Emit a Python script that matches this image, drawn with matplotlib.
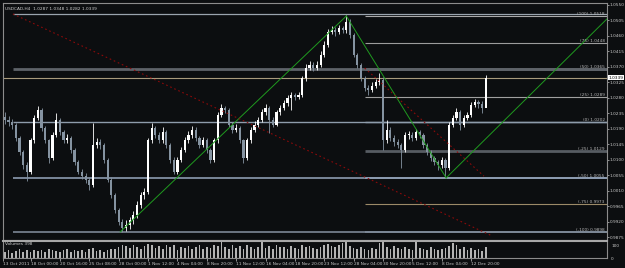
import numpy as np
import matplotlib
matplotlib.use("Agg")
import matplotlib.pyplot as plt
import matplotlib.transforms as mtransforms

# USDCAD H4 chart (bars grouped to 8 hours)
first_open = 1.0225
close = [1.0216, 1.0210, 1.0202, 1.0164, 1.0123, 1.0085, 1.0065, 1.0158, 1.0222, 1.0245,
         1.0193, 1.0158, 1.0106, 1.0173, 1.0216, 1.0181, 1.0158, 1.0164, 1.0129, 1.0094,
         1.0065, 1.0054, 1.0042, 1.0027, 1.0144, 1.0152, 1.0144, 1.0100, 1.0042, 0.9998,
         0.9955, 0.9920, 0.9903, 0.9911, 0.9926, 0.9940, 0.9969, 0.9998, 1.0007, 1.0158,
         1.0193, 1.0173, 1.0158, 1.0181, 1.0144, 1.0100, 1.0065, 1.0100, 1.0129, 1.0158,
         1.0173, 1.0187, 1.0164, 1.0144, 1.0158, 1.0129, 1.0100, 1.0158, 1.0231, 1.0251,
         1.0245, 1.0202, 1.0187, 1.0193, 1.0158, 1.0106, 1.0158, 1.0187, 1.0202, 1.0216,
         1.0239, 1.0251, 1.0216, 1.0202, 1.0239, 1.0251, 1.0265, 1.0280, 1.0289, 1.0283,
         1.0289, 1.0338, 1.0367, 1.0376, 1.0367, 1.0376, 1.0405, 1.0434, 1.0472, 1.0477,
         1.0472, 1.0483, 1.0477, 1.0501, 1.0463, 1.0405, 1.0376, 1.0338, 1.0309, 1.0303,
         1.0315, 1.0326, 1.0332, 1.0158, 1.0187, 1.0164, 1.0152, 1.0144, 1.0129, 1.0173,
         1.0173, 1.0164, 1.0181, 1.0173, 1.0144, 1.0123, 1.0106, 1.0094, 1.0085, 1.0100,
         1.0077, 1.0202, 1.0222, 1.0239, 1.0202, 1.0222, 1.0231, 1.0260, 1.0268, 1.0263,
         1.0251, 1.0339]
high = [1.0240, 1.0228, 1.0218, 1.0207, 1.0170, 1.0130, 1.0095, 1.0165, 1.0230, 1.0257,
        1.0250, 1.0200, 1.0162, 1.0180, 1.0236, 1.0222, 1.0188, 1.0175, 1.0170, 1.0135,
        1.0100, 1.0075, 1.0062, 1.0050, 1.0207, 1.0165, 1.0160, 1.0150, 1.0105, 1.0050,
        1.0005, 0.9962, 0.9930, 0.9925, 0.9935, 0.9952, 0.9980, 1.0008, 1.0020, 1.0165,
        1.0207, 1.0200, 1.0180, 1.0195, 1.0188, 1.0150, 1.0108, 1.0110, 1.0138, 1.0168,
        1.0185, 1.0200, 1.0195, 1.0170, 1.0168, 1.0165, 1.0135, 1.0165, 1.0238, 1.0262,
        1.0258, 1.0250, 1.0210, 1.0205, 1.0198, 1.0162, 1.0165, 1.0195, 1.0212, 1.0225,
        1.0248, 1.0262, 1.0256, 1.0225, 1.0245, 1.0260, 1.0275, 1.0290, 1.0298, 1.0295,
        1.0298, 1.0345, 1.0380, 1.0388, 1.0385, 1.0386, 1.0415, 1.0445, 1.0480, 1.0490,
        1.0485, 1.0492, 1.0490, 1.0521, 1.0510, 1.0470, 1.0412, 1.0382, 1.0345, 1.0318,
        1.0325, 1.0335, 1.0353, 1.0340, 1.0216, 1.0195, 1.0172, 1.0160, 1.0150, 1.0180,
        1.0185, 1.0180, 1.0190, 1.0188, 1.0178, 1.0150, 1.0130, 1.0112, 1.0100, 1.0110,
        1.0105, 1.0210, 1.0232, 1.0250, 1.0245, 1.0230, 1.0240, 1.0268, 1.0278, 1.0275,
        1.0270, 1.0348]
low = [1.0205, 1.0198, 1.0190, 1.0155, 1.0115, 1.0075, 1.0040, 1.0058, 1.0150, 1.0215,
       1.0185, 1.0148, 1.0091, 1.0100, 1.0168, 1.0172, 1.0148, 1.0150, 1.0120, 1.0085,
       1.0058, 1.0045, 1.0032, 1.0013, 1.0022, 1.0135, 1.0132, 1.0092, 1.0035, 0.9990,
       0.9945, 0.9910, 0.9891, 0.9895, 0.9900, 0.9915, 0.9932, 0.9960, 0.9988, 1.0000,
       1.0150, 1.0165, 1.0148, 1.0150, 1.0135, 1.0092, 1.0058, 1.0060, 1.0094, 1.0122,
       1.0150, 1.0165, 1.0155, 1.0135, 1.0138, 1.0120, 1.0090, 1.0095, 1.0150, 1.0225,
       1.0235, 1.0195, 1.0178, 1.0180, 1.0150, 1.0091, 1.0100, 1.0150, 1.0180, 1.0195,
       1.0210, 1.0232, 1.0178, 1.0195, 1.0198, 1.0232, 1.0245, 1.0258, 1.0245, 1.0275,
       1.0276, 1.0282, 1.0330, 1.0360, 1.0358, 1.0360, 1.0370, 1.0398, 1.0428, 1.0465,
       1.0460, 1.0466, 1.0468, 1.0470, 1.0455, 1.0398, 1.0368, 1.0330, 1.0300, 1.0290,
       1.0296, 1.0308, 1.0318, 1.0129, 1.0150, 1.0155, 1.0142, 1.0135, 1.0077, 1.0122,
       1.0162, 1.0155, 1.0158, 1.0165, 1.0135, 1.0115, 1.0098, 1.0085, 1.0071, 1.0078,
       1.0048, 1.0070, 1.0195, 1.0215, 1.0187, 1.0196, 1.0215, 1.0225, 1.0255, 1.0252,
       1.0236, 1.0282]
volume = [45, 60, 40, 55, 70, 50, 65, 45, 60, 55,
          65, 50, 70, 60, 55, 45, 65, 70, 50, 60,
          55, 65, 45, 70, 80, 55, 60, 50, 65, 75,
          70, 85, 100, 95, 80, 105, 90, 70, 95, 110,
          100, 80, 95, 70, 105, 85, 100, 65, 90, 80,
          95, 70, 85, 100, 75, 90, 80, 105, 95, 130,
          90, 75, 100, 80, 95, 70, 105, 85, 75, 90,
          130, 80, 95, 70, 100, 85, 90, 75, 95, 80,
          70, 105, 85, 95, 80, 70, 90, 100, 110, 95,
          85, 100, 120, 128, 95, 80, 70, 90, 75, 65,
          80, 70, 120, 128, 85, 70, 95, 80, 70, 90,
          75, 65, 125, 80, 70, 60, 85, 75, 65, 70,
          80, 95, 120, 100, 70, 85, 65, 80, 60, 70,
          55, 85]

date_labels = ["13 Oct 2011", "18 Oct 00:00", "20 Oct 16:00", "25 Oct 08:00", "28 Oct 00:00",
               "1 Nov 12:00", "4 Nov 04:00", "8 Nov 20:00", "11 Nov 12:00", "16 Nov 04:00",
               "18 Nov 20:00", "23 Nov 12:00", "28 Nov 04:00", "30 Nov 20:00", "5 Dec 12:00",
               "8 Dec 04:00", "12 Dec 20:00"]
price_ticks = [1.0550, 1.0505, 1.0460, 1.0415, 1.0370, 1.0325, 1.0280, 1.0235, 1.0190,
               1.0145, 1.0100, 1.0055, 1.0010, 0.9965, 0.9920, 0.9875]

# fibonacci levels drawn from the swing high
fib_prices = [1.0518, 1.0440, 1.0364, 1.0283, 1.0210, 1.0126, 1.0048, 0.9972, 0.9891]
fib_text = ["(100) 1.0518", "(75) 1.0448", "(50) 1.0365", "(25) 1.0289", "(0) 1.0202",
            "(-25) 1.0129", "(-50) 1.0055", "(-75) 0.9973", "(-100) 0.9898"]
fib_colors = ["#a8a8a8", "#9c9c9c", "#5e6369", "#a0a0a0", "#8e9cab",
              "#575c62", "#8c9bb0", "#9c8a68", "#7c8795"]
fib_widths = [0.8, 0.8, 2.0, 0.8, 1.0, 2.0, 1.4, 0.8, 1.4]

# longer horizontal lines across the chart
hline_prices = [1.0524, 1.0364, 1.0210, 1.0048, 0.9891]
hline_colors = ["#9aa4ae", "#5e6369", "#8e9cab", "#8c9bb0", "#7c8795"]
hline_widths = [0.9, 2.0, 1.0, 1.2, 1.2]
last_price = 1.0339

# trend lines (bar index, price)
green_lines = [((31.4, 0.9891), (93.0, 1.0518)),
               ((93.0, 1.0518), (120.2, 1.0048)),
               ((120.2, 1.0048), (164.5, 1.0515))]
red_lines = [((2.2, 1.0524), (132.2, 0.9882)),
             ((98.0, 1.0367), (130.5, 1.0053))]

BG = "#0c0e10"
TXT = "#c8c8c8"
FS = 3.1
W, H = 625, 268

fig = plt.figure(figsize=(W / 100, H / 100), dpi=100, facecolor=BG)
ax = fig.add_axes([3 / W, 1 - 240 / H, 604 / W, 237 / H], facecolor=BG)
axv = fig.add_axes([3 / W, 1 - 258 / H, 604 / W, 17 / H], facecolor=BG, sharex=ax)

n = len(close)
x = np.arange(n)
opens = [first_open] + close[:-1]
xmax = 164.0

for i in range(n):
    o, c = opens[i], close[i]
    col = "#ffffff" if c >= o else "#8593a1"
    ax.vlines(i, low[i], high[i], color=col, lw=0.6, zorder=3)
    body = max(abs(c - o), 0.0002)
    ax.bar(i, body, bottom=min(o, c), width=0.6, color=col, lw=0, zorder=4)

for p, col, lw in zip(hline_prices, hline_colors, hline_widths):
    ax.hlines(p, 2.2, xmax, color=col, lw=lw, zorder=2)
ax.hlines(last_price, -0.5, xmax, color="#a89a7c", lw=0.8, zorder=2)

for p, t, col, lw in zip(fib_prices, fib_text, fib_colors, fib_widths):
    ax.hlines(p, 98.0, xmax, color=col, lw=lw, zorder=2)
    ax.text(xmax - 0.6, p + 0.0001, t, ha="right", va="bottom", fontsize=FS,
            color="#b8b8b8", zorder=6)

for (x0, y0), (x1, y1) in green_lines:
    ax.plot([x0, x1], [y0, y1], color="#1f9a1f", lw=0.7, zorder=5)
for (x0, y0), (x1, y1) in red_lines:
    ax.plot([x0, x1], [y0, y1], color="#8b0a0a", lw=0.8, ls=(0, (1.5, 2.5)), zorder=5)

ax.set_xlim(-0.5, xmax)
ax.set_ylim(0.98677, 1.05558)
ax.yaxis.tick_right()
ax.set_yticks(price_ticks)
ax.set_yticklabels(["%.4f" % v for v in price_ticks])
ax.tick_params(axis="y", colors=TXT, labelsize=FS, length=1.5, width=0.5, pad=0.5)
ax.tick_params(axis="x", bottom=False, labelbottom=False)
for s in ax.spines.values():
    s.set_color("#8c8c8c")
    s.set_linewidth(0.8)

trans = mtransforms.blended_transform_factory(ax.transAxes, ax.transData)
ax.text(1.003, last_price, "1.0339", transform=trans, fontsize=FS, color="black",
        va="center", ha="left",
        bbox=dict(boxstyle="square,pad=0.1", fc="white", ec="none"), zorder=7)
ax.text(0.004, 0.985, "USDCAD,H4  1.0287 1.0348 1.0282 1.0339", transform=ax.transAxes,
        fontsize=FS, color="#d0d0d0", va="top", ha="left")

# volume pane
axv.bar(x, volume, width=0.45, color="#b4b4b4", lw=0)
axv.set_ylim(0, 135)
axv.yaxis.tick_right()
axv.set_yticks([0, 100])
axv.set_yticklabels(["0", "100"])
axv.tick_params(axis="y", colors=TXT, labelsize=FS, length=0, pad=3)
tick_pos = [-0.4] + [7 + 8 * k for k in range(len(date_labels) - 1)]
axv.set_xticks(tick_pos)
axv.set_xticklabels(date_labels, ha="left")
axv.tick_params(axis="x", colors=TXT, labelsize=FS, length=2, width=0.5, pad=1)
for s in axv.spines.values():
    s.set_color("#8c8c8c")
    s.set_linewidth(0.8)
axv.spines["top"].set_linewidth(1.5)
axv.spines["top"].set_color("#a8a8a8")
axv.text(0.004, 0.95, "Volumes 398", transform=axv.transAxes, fontsize=FS,
         color="#d0d0d0", va="top", ha="left")

fig.savefig("out.png", dpi=100, facecolor=BG)
